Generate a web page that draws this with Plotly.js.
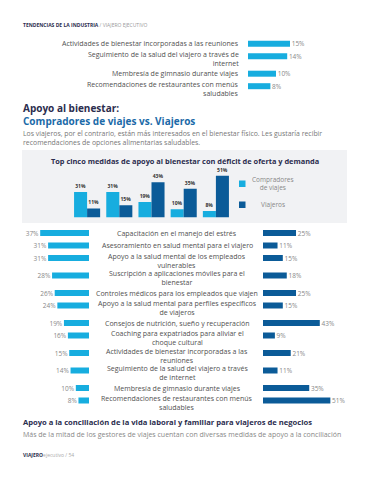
<!DOCTYPE html>
<html><head><meta charset="utf-8">
<script src="https://cdn.plot.ly/plotly-3.0.1.min.js"></script>
<style>html,body{margin:0;padding:0;background:#fff}#chart{width:370px;height:480px}</style>
</head><body><div id="chart"></div>
<script>
// ---------- DATA ----------
const topLabels = [
  "Actividades de bienestar incorporadas a las reuniones",
  "Seguimiento de la salud del viajero a través de<br>internet",
  "Membresía de gimnasio durante viajes",
  "Recomendaciones de restaurantes con menús<br>saludables"
];
const topValues = [15, 14, 10, 8];

const deficitCats = ["Asesoramiento", "Salud mental vulnerables", "Nutrición", "Gimnasio", "Restaurantes"];
const deficitCompradores = [31, 31, 19, 10, 8];
const deficitViajeros = [11, 15, 43, 35, 51];

const rowLabels = [
  "Capacitación en el manejo del estrés",
  "Asesoramiento en salud mental para el viajero",
  "Apoyo a la salud mental de los empleados<br>vulnerables",
  "Suscripción a aplicaciones móviles para el<br>bienestar",
  "Controles médicos para los empleados que viajen",
  "Apoyo a la salud mental para perfiles específicos<br>de viajeros",
  "Consejos de nutrición, sueño y recuperación",
  "Coaching para expatriados para aliviar el<br>choque cultural",
  "Actividades de bienestar incorporadas a las<br>reuniones",
  "Seguimiento de la salud del viajero a través<br>de internet",
  "Membresía de gimnasio durante viajes",
  "Recomendaciones de restaurantes con menús<br>saludables"
];
const compradores = [37, 31, 31, 28, 26, 24, 19, 16, 15, 14, 10, 8];
const viajeros    = [25, 11, 15, 18, 25, 15, 43, 9, 21, 11, 35, 51];

const legendNames = ["Compradores<br>de viajes", "Viajeros"];

// ---------- LAYOUT HELPERS ----------
const W = 370, H = 480;
const px = x => x / W;
const py = y => 1 - y / H;
const LIGHT = '#17addf', DARK = '#0b5b98';
const FONT = 'Open Sans, sans-serif';
const nLines = s => s.split('<br>').length;
// row positions in pixel units derived from label line counts
function rowPos(labels) {
  const out = [0];
  for (let i = 1; i < labels.length; i++) out.push(out[i-1] + (nLines(labels[i-1]) > 1 ? 17.5 : 12.5));
  return out;
}
const topY = rowPos(topLabels);
const rowY = rowPos(rowLabels);

const valFont = {family:FONT, size:6.5, color:'#888'};
const traces = [
  { type:'bar', orientation:'h', x: topValues, y: topY, xaxis:'x3', yaxis:'y3',
    width: 6, marker:{color: LIGHT}, showlegend:false, hoverinfo:'skip',
    text: topValues.map(v => ' ' + v + '%'), textposition:'outside', cliponaxis:false,
    constraintext:'none', textfont: valFont },
  { type:'bar', orientation:'h', x: compradores, y: rowY, xaxis:'x', yaxis:'y',
    width: 6, marker:{color: LIGHT}, showlegend:false, hoverinfo:'skip',
    text: compradores.map(v => v + '% '), textposition:'outside', cliponaxis:false,
    constraintext:'none', textfont: valFont },
  { type:'bar', orientation:'h', x: viajeros, y: rowY, xaxis:'x2', yaxis:'y',
    width: 6, marker:{color: DARK}, showlegend:false, hoverinfo:'skip',
    text: viajeros.map(v => ' ' + v + '%'), textposition:'outside', cliponaxis:false,
    constraintext:'none', textfont: valFont },
  { type:'bar', x: deficitCats, y: deficitCompradores, xaxis:'x4', yaxis:'y4',
    marker:{color: LIGHT}, showlegend:false, hoverinfo:'skip',
    text: deficitCompradores.map(v => v + '%'), textposition:'outside', cliponaxis:false,
    constraintext:'none', textfont:{family:FONT, size:5, color:'#333', weight:700} },
  { type:'bar', x: deficitCats, y: deficitViajeros, xaxis:'x4', yaxis:'y4',
    marker:{color: DARK}, showlegend:false, hoverinfo:'skip',
    text: deficitViajeros.map(v => v + '%'), textposition:'outside', cliponaxis:false,
    constraintext:'none', textfont:{family:FONT, size:5, color:'#333', weight:700} }
];

const hid = {visible:false, fixedrange:true};
const annotations = [];
const labelFont = {family:FONT, size:7, color:'#505050'};

topLabels.forEach((t, i) => annotations.push({
  text: t, xref:'paper', yref:'y3', x: px(241), y: topY[i], xanchor:'right', yanchor:'middle',
  align:'right', showarrow:false, font: labelFont, yshift: -(nLines(t)-1)*2.5
}));
rowLabels.forEach((t, i) => annotations.push({
  text: t, xref:'paper', yref:'y', x: px(177), y: rowY[i], xanchor:'center', yanchor:'middle',
  align:'center', showarrow:false, font: labelFont, yshift: -(nLines(t)-1)*2.5
}));

function txt(text, x, y, size, color, anchor) {
  annotations.push({text, xref:'paper', yref:'paper', x: px(x), y: py(y), xanchor: anchor||'left',
    yanchor:'middle', align: anchor==='center' ? 'center' : 'left', showarrow:false,
    font:{family:FONT, size, color}});
}
txt("<b>TENDENCIAS DE LA INDUSTRIA</b><span style='color:#999'> / VIAJERO EJECUTIVO</span>", 21, 25, 5, '#2b2d4e');
txt("<b>Apoyo al bienestar:</b><br><b><span style='color:#1b6aa8'>Compradores de viajes vs. Viajeros</span></b>", 21, 114, 10, '#2b2d4e');
txt("Los viajeros, por el contrario, están más interesados en el bienestar físico. Les gustaría recibir<br>recomendaciones de opciones alimentarias saludables.", 21, 138.3, 6.9, '#777');
txt("<b>Top cinco medidas de apoyo al bienestar con déficit de oferta y demanda</b>", 185, 161, 7.4, '#2b2d4e', 'center');
txt(legendNames[0], 273, 183.5, 6.5, '#888', 'center');
txt(legendNames[1], 273, 205, 6.5, '#888', 'center');
txt("<b>Apoyo a la conciliación de la vida laboral y familiar para viajeros de negocios</b>", 21, 421.5, 7.6, '#2b2d4e');
txt("Más de la mitad de los gestores de viajes cuentan con diversas medidas de apoyo a la conciliación", 21, 434.5, 7.0, '#888');
txt("<b>VIAJERO</b><span style='color:#aaa'>ejecutivo / 54</span>", 21, 455, 5, '#2b2d4e');

const shapes = [
  {type:'rect', xref:'paper', yref:'paper', x0:px(22), x1:px(347), y0:py(223), y1:py(150),
   fillcolor:'#f1f2f4', line:{width:0}, layer:'below'},
  {type:'rect', xref:'paper', yref:'paper', x0:px(239), x1:px(245.5), y0:py(187), y1:py(180.5),
   fillcolor:LIGHT, line:{width:0}},
  {type:'rect', xref:'paper', yref:'paper', x0:px(239), x1:px(245.5), y0:py(208), y1:py(201.5),
   fillcolor:DARK, line:{width:0}}
];

const layout = {
  width: W, height: H, margin:{l:0,r:0,t:0,b:0},
  paper_bgcolor:'#fff', plot_bgcolor:'rgba(0,0,0,0)',
  barmode:'group', bargap:0.19, bargroupgap:0,
  font:{family:FONT},
  xaxis: Object.assign({}, hid, {domain:[px(20), px(89)], range:[52.3, 0], anchor:'y'}),
  xaxis2: Object.assign({}, hid, {domain:[px(263), px(340)], range:[0, 58.3], anchor:'y'}),
  yaxis: Object.assign({}, hid, {domain:[py(415), py(225)], range:[182, -8], anchor:'x'}),
  xaxis3: Object.assign({}, hid, {domain:[px(248), px(332)], range:[0, 30], anchor:'y3'}),
  yaxis3: Object.assign({}, hid, {domain:[py(95), py(35)], range:[51.3, -8.7], anchor:'x3'}),
  xaxis4: Object.assign({}, hid, {domain:[px(71), px(232)], anchor:'y4', type:'category'}),
  yaxis4: Object.assign({}, hid, {domain:[py(217.5), py(168.3)], range:[0, 60], anchor:'x4'}),
  annotations, shapes
};

Plotly.newPlot('chart', traces, layout, {displayModeBar:false, staticPlot:true});
</script></body></html>
